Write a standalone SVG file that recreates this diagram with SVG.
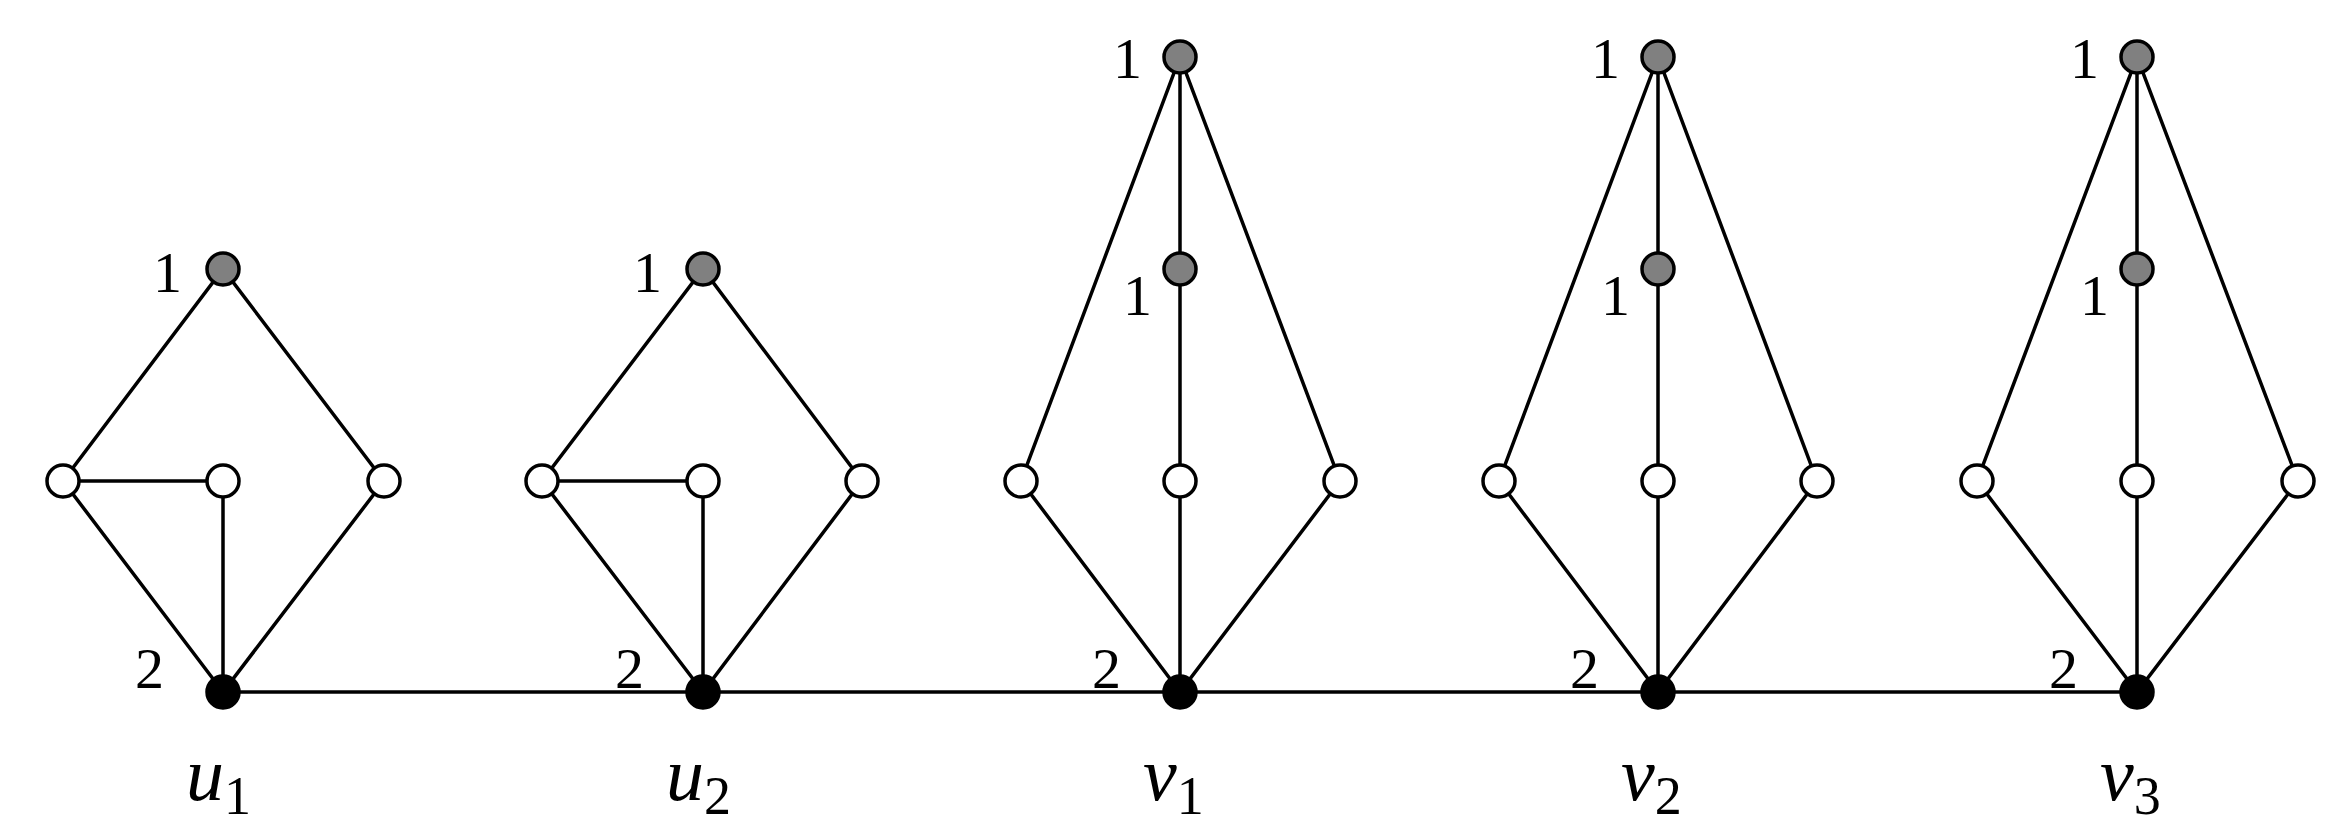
<svg xmlns="http://www.w3.org/2000/svg" width="2334" height="832" viewBox="0 0 2334 832">
<style>
.e{stroke:#000;stroke-width:3.5;fill:none}
.w{fill:#fff;stroke:#000;stroke-width:3.5}
.g{fill:#808080;stroke:#000;stroke-width:3.5}
.b{fill:#000;stroke:#000;stroke-width:3.5}
.t{font-family:'Liberation Serif','Times New Roman',serif;font-size:58px;fill:#000}
.n{font-family:'Liberation Serif','Times New Roman',serif;font-style:italic;font-size:76px;fill:#000}
.s{font-style:normal;font-size:54px}
</style>
<rect width="2334" height="832" fill="#fff"/>
<g id="edges" class="e">
<line x1="223" y1="692" x2="2137" y2="692"/>
<path d="M223 692L63 481L223 269L384 481Z M63 481H223V692 M223 692L384 481"/>
<path d="M703 692L542 481L703 269L862 481Z M542 481H703V692"/>
<path d="M1180 692L1021 481L1180 57L1340 481Z M1180 57V692"/>
<path d="M1658 692L1499 481L1658 57L1817 481Z M1658 57V692"/>
<path d="M2137 692L1977 481L2137 57L2298 481Z M2137 57V692"/>
</g>
<g id="g-u1"><circle class="g" cx="223" cy="269" r="16"/><circle class="w" cx="63" cy="481" r="16"/><circle class="w" cx="223" cy="481" r="16"/><circle class="w" cx="384" cy="481" r="16"/><circle class="b" cx="223" cy="692" r="16"/>
<text class="t" x="182" y="292" text-anchor="end">1</text><text class="t" x="164" y="688" text-anchor="end">2</text><text class="n" x="186" y="800">u<tspan class="s" dy="14">1</tspan></text></g>
<g id="g-u2"><circle class="g" cx="703" cy="269" r="16"/><circle class="w" cx="542" cy="481" r="16"/><circle class="w" cx="703" cy="481" r="16"/><circle class="w" cx="862" cy="481" r="16"/><circle class="b" cx="703" cy="692" r="16"/>
<text class="t" x="662" y="292" text-anchor="end">1</text><text class="t" x="644" y="688" text-anchor="end">2</text><text class="n" x="666" y="800">u<tspan class="s" dy="14">2</tspan></text></g>
<g id="g-v1"><circle class="g" cx="1180" cy="57" r="16"/><circle class="g" cx="1180" cy="269" r="16"/><circle class="w" cx="1021" cy="481" r="16"/><circle class="w" cx="1180" cy="481" r="16"/><circle class="w" cx="1340" cy="481" r="16"/><circle class="b" cx="1180" cy="692" r="16"/>
<text class="t" x="1142" y="78" text-anchor="end">1</text><text class="t" x="1152" y="315" text-anchor="end">1</text><text class="t" x="1121" y="688" text-anchor="end">2</text><text class="n" x="1143" y="800">v<tspan class="s" dy="14">1</tspan></text></g>
<g id="g-v2"><circle class="g" cx="1658" cy="57" r="16"/><circle class="g" cx="1658" cy="269" r="16"/><circle class="w" cx="1499" cy="481" r="16"/><circle class="w" cx="1658" cy="481" r="16"/><circle class="w" cx="1817" cy="481" r="16"/><circle class="b" cx="1658" cy="692" r="16"/>
<text class="t" x="1620" y="78" text-anchor="end">1</text><text class="t" x="1630" y="315" text-anchor="end">1</text><text class="t" x="1599" y="688" text-anchor="end">2</text><text class="n" x="1621" y="800">v<tspan class="s" dy="14">2</tspan></text></g>
<g id="g-v3"><circle class="g" cx="2137" cy="57" r="16"/><circle class="g" cx="2137" cy="269" r="16"/><circle class="w" cx="1977" cy="481" r="16"/><circle class="w" cx="2137" cy="481" r="16"/><circle class="w" cx="2298" cy="481" r="16"/><circle class="b" cx="2137" cy="692" r="16"/>
<text class="t" x="2099" y="78" text-anchor="end">1</text><text class="t" x="2109" y="315" text-anchor="end">1</text><text class="t" x="2078" y="688" text-anchor="end">2</text><text class="n" x="2100" y="800">v<tspan class="s" dy="14">3</tspan></text></g>
</svg>
